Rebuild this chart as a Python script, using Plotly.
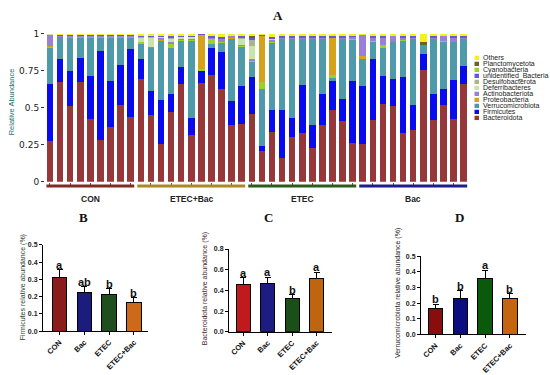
import plotly.graph_objects as go

# ---------------- data: panel A (relative abundance per sample) ----------------
groups = ["CON", "ETEC+Bac", "ETEC", "Bac"]
group_sizes = [9, 11, 11, 11]
samples = [f"{g}_{i + 1}" for g, n in zip(groups, group_sizes) for i in range(n)]

bacteroidota = [0.275, 0.67, 0.51, 0.675, 0.425, 0.28, 0.37, 0.515, 0.435,
                0.69, 0.45, 0.255, 0.47, 0.66, 0.315, 0.665, 0.72, 0.625, 0.38, 0.39,
                0.46, 0.21, 0.335, 0.16, 0.30, 0.33, 0.225, 0.385, 0.485, 0.41, 0.265,
                0.255, 0.415, 0.525, 0.51, 0.33, 0.35, 0.755, 0.415, 0.52, 0.425, 0.66]
firmicutes = [0.385, 0.155, 0.235, 0.16, 0.29, 0.605, 0.31, 0.275, 0.46,
              0.14, 0.16, 0.30, 0.125, 0.115, 0.115, 0.08, 0.185, 0.25, 0.165, 0.255,
              0.245, 0.03, 0.15, 0.325, 0.13, 0.32, 0.16, 0.21, 0.195, 0.15, 0.415,
              0.39, 0.415, 0.19, 0.185, 0.38, 0.17, 0.11, 0.18, 0.105, 0.26, 0.12]
verrucomicrobiota = [0.24, 0.15, 0.225, 0.135, 0.255, 0.085, 0.29, 0.18, 0.075,
                     0.10, 0.29, 0.395, 0.305, 0.175, 0.52, 0.0, 0.025, 0.06, 0.42, 0.265,
                     0.105, 0.385, 0.45, 0.475, 0.53, 0.31, 0.575, 0.365, 0.02, 0.40, 0.275,
                     0.185, 0.115, 0.185, 0.245, 0.24, 0.44, 0.055, 0.365, 0.32, 0.255, 0.18]
cyanobacteria = [0.01, 0, 0, 0, 0, 0, 0, 0, 0,
                 0.01, 0, 0, 0.03, 0.005, 0.005, 0.015, 0.03, 0.01, 0, 0.005,
                 0.005, 0.045, 0.005, 0.005, 0.005, 0.005, 0.005, 0.005, 0.02, 0.005, 0.005,
                 0, 0.005, 0.02, 0.005, 0.005, 0.005, 0, 0.005, 0.005, 0.005, 0.005]
proteobacteria = [0.005, 0.003, 0.004, 0.005, 0.005, 0.004, 0.005, 0.005, 0.005,
                  0, 0.005, 0.005, 0, 0, 0, 0.23, 0, 0, 0.005, 0,
                  0, 0.31, 0, 0, 0, 0, 0, 0, 0.25, 0, 0,
                  0.02, 0, 0, 0, 0, 0, 0, 0, 0, 0, 0]
actinobacteriota = [0.075, 0.005, 0.006, 0.005, 0.005, 0.008, 0.006, 0.005, 0.006,
                    0.005, 0.005, 0.015, 0.01, 0.01, 0.01, 0, 0.01, 0.015, 0.01, 0.005,
                    0.01, 0, 0.015, 0.005, 0.005, 0.005, 0.005, 0.005, 0, 0.005, 0.015,
                    0.14, 0.02, 0.05, 0.035, 0.015, 0.005, 0, 0.005, 0.03, 0.025, 0.005]
deferribacteres = [0.005, 0.002, 0.003, 0.002, 0.003, 0.002, 0.003, 0.003, 0.003,
                   0.025, 0.06, 0.005, 0.02, 0.01, 0.01, 0, 0, 0.005, 0, 0.045,
                   0.09, 0, 0.01, 0, 0, 0, 0, 0, 0, 0, 0,
                   0, 0, 0, 0, 0, 0, 0, 0, 0, 0, 0]
desulfobacterota = [0.005, 0, 0, 0, 0, 0, 0, 0, 0,
                    0.005, 0.005, 0, 0.01, 0, 0, 0, 0, 0, 0, 0.005,
                    0.04, 0, 0, 0, 0, 0, 0, 0, 0, 0, 0,
                    0, 0, 0, 0, 0, 0, 0, 0, 0, 0, 0]
unidentified_bacteria = [0, 0.005, 0.007, 0.008, 0.007, 0.006, 0.006, 0.007, 0.006,
                         0.005, 0.005, 0.01, 0.01, 0.01, 0.01, 0.005, 0.01, 0.01, 0.005, 0.01,
                         0.015, 0.01, 0.01, 0.01, 0.01, 0.01, 0.01, 0.01, 0.015, 0.01, 0.01,
                         0, 0.01, 0.01, 0, 0.01, 0.01, 0, 0.01, 0, 0.01, 0.01]
planctomycetota = [0, 0, 0, 0, 0, 0, 0, 0, 0,
                   0, 0, 0, 0, 0, 0, 0, 0, 0, 0, 0,
                   0.01, 0, 0, 0, 0, 0, 0, 0, 0, 0, 0,
                   0, 0, 0, 0, 0, 0, 0.025, 0, 0, 0, 0]
others = [0, 0.01, 0.01, 0.01, 0.01, 0.01, 0.01, 0.01, 0.01,
          0.02, 0.02, 0.015, 0.02, 0.015, 0.015, 0.005, 0.02, 0.025, 0.015, 0.02,
          0.02, 0.01, 0.025, 0.02, 0.02, 0.02, 0.02, 0.02, 0.015, 0.02, 0.015,
          0.01, 0.02, 0.02, 0.02, 0.02, 0.02, 0.055, 0.02, 0.02, 0.02, 0.02]

stack = [
    ("Bacteroidota", bacteroidota, "#96373A"),
    ("Firmicutes", firmicutes, "#0A0AEE"),
    ("Verrucomicrobiota", verrucomicrobiota, "#4F9AAA"),
    ("Cyanobacteria", cyanobacteria, "#9BD22A"),
    ("Proteobacteria", proteobacteria, "#D4A21C"),
    ("Actinobacteriota", actinobacteriota, "#9A7FD6"),
    ("Deferribacteres", deferribacteres, "#C9E4A8"),
    ("Desulfobacterota", desulfobacterota, "#A8B494"),
    ("unidentified_Bacteria", unidentified_bacteria, "#6659D8"),
    ("Planctomycetota", planctomycetota, "#6B6320"),
    ("Others", others, "#F2F21A"),
]
legend_order = ["Others", "Planctomycetota", "Cyanobacteria", "unidentified_Bacteria",
                "Desulfobacterota", "Deferribacteres", "Actinobacteriota", "Proteobacteria",
                "Verrucomicrobiota", "Firmicutes", "Bacteroidota"]
group_line_colors = ["#7B2D26", "#A88A2A", "#2D5A1E", "#1E1E8A"]

# ---------------- data: panels B, C, D ----------------
treatments = ["CON", "Bac", "ETEC", "ETEC+Bac"]
firm_mean = [0.31, 0.222, 0.21, 0.167]
firm_err = [0.047, 0.035, 0.035, 0.025]
firm_sig = ["a", "ab", "b", "b"]
bact_mean = [0.46, 0.47, 0.325, 0.515]
bact_err = [0.06, 0.057, 0.035, 0.06]
bact_sig = ["a", "a", "b", "a"]
verr_mean = [0.163, 0.227, 0.356, 0.227]
verr_err = [0.031, 0.053, 0.054, 0.033]
verr_sig = ["b", "b", "a", "b"]

W, H = 550, 375
def px(x):
    return x / W
def py(y):
    return 1 - y / H

SANS = "Liberation Sans"
SERIF = "Liberation Serif"

fig = go.Figure()

# panel A stacked bars
for name, vals, col in stack:
    fig.add_trace(go.Bar(x=samples, y=vals, name=name, marker=dict(color=col, line=dict(width=0)),
                         showlegend=False, hoverinfo="skip", xaxis="x", yaxis="y"))

shapes = []
annotations = []

def centered(**kw):
    d = dict(showarrow=False, xanchor="center", yanchor="middle")
    d.update(kw)
    return d

# group lines and labels
start = 0
for g, n, c in zip(groups, group_sizes, group_line_colors):
    shapes.append(dict(type="line", xref="x", yref="paper", x0=start - 0.35, x1=start + n - 1 + 0.35,
                       y0=py(186), y1=py(186), line=dict(color=c, width=3)))
    annotations.append(centered(xref="x", yref="paper", x=samples[start + n // 2], y=py(199), text=f"<b>{g}</b>",
                                font=dict(family=SANS, size=8.5, color="#222")))
    start += n

# manual legend
colmap = {n: c for n, _, c in stack}
for i, name in enumerate(legend_order):
    yc = 54.3 + i * 6.17
    shapes.append(dict(type="rect", xref="paper", yref="paper", x0=px(474.5), x1=px(479),
                       y0=py(yc + 2.2), y1=py(yc - 2.2), fillcolor=colmap[name], line=dict(width=0)))
    annotations.append(centered(xref="paper", yref="paper", x=px(481), y=py(yc), text=name, xanchor="left",
                                font=dict(family=SANS, size=7, color="#222")))

# panel A titles
annotations.append(centered(xref="paper", yref="paper", x=px(278), y=py(11), text="<b>A</b>",
                            font=dict(family=SERIF, size=13, color="#111")))
annotations.append(centered(xref="paper", yref="paper", x=px(11), y=py(100), text="Relative Abundance",
                            textangle=-90, font=dict(family=SANS, size=7.5, color="#1F6F6A")))

# panels B, C, D
panels = [
    dict(ax="2", mean=firm_mean, err=firm_err, sig=firm_sig,
         colors=["#8B1C1C", "#1C1C7C", "#1F4F1F", "#CC6A1A"],
         title="Firmicutes relative abundance (%)", tcol="#2B3D2B", tx=23, ty=290, letter="B", lx=83),
    dict(ax="3", mean=bact_mean, err=bact_err, sig=bact_sig,
         colors=["#C0191E", "#1C1C82", "#1A4F1A", "#BF650F"],
         title="Bacteroidota relative abundance (%)", tcol="#4A1A2A", tx=205, ty=292, letter="C", lx=268),
    dict(ax="4", mean=verr_mean, err=verr_err, sig=verr_sig,
         colors=["#8A0D0D", "#0D0D82", "#0B5A0B", "#C4650F"],
         title="Verrucomicrobiota relative abundance (%)", tcol="#222222", tx=398, ty=296, letter="D", lx=459),
]
for p in panels:
    fig.add_trace(go.Bar(x=treatments, y=p["mean"], width=0.58, showlegend=False, hoverinfo="skip",
                         marker=dict(color=p["colors"], line=dict(color="black", width=1)),
                         error_y=dict(type="data", array=p["err"], arrayminus=[0] * len(p["err"]),
                                      symmetric=False, color="black", thickness=1, width=3),
                         xaxis="x" + p["ax"], yaxis="y" + p["ax"]))
    for t, m, e, s in zip(treatments, p["mean"], p["err"], p["sig"]):
        annotations.append(dict(xref="x" + p["ax"], yref="y" + p["ax"], x=t, y=m + e, text=f"<b>{s}</b>",
                                xanchor="center", yanchor="bottom", yshift=-3, showarrow=False,
                                font=dict(family=SANS, size=11, color="#111")))
    annotations.append(centered(xref="paper", yref="paper", x=px(p["tx"]), y=py(p["ty"]), text=p["title"],
                                textangle=-90, font=dict(family=SANS, size=7, color=p["tcol"])))
    annotations.append(centered(xref="paper", yref="paper", x=px(p["lx"]), y=py(218), text=f"<b>{p['letter']}</b>",
                                font=dict(family=SERIF, size=13, color="#111")))

small_x = dict(type="category", categoryarray=treatments, showline=True, linecolor="black", linewidth=1,
               ticks="outside", ticklen=3, tickcolor="black", tickangle=-45, showgrid=False, zeroline=False,
               tickfont=dict(family=SANS, size=7.5, color="#111", weight="bold"))
small_y = dict(showline=True, linecolor="black", linewidth=1, ticks="outside", ticklen=3, tickcolor="black",
               showgrid=False, zeroline=False, tickformat=".1f",
               tickfont=dict(family=SANS, size=7, color="#222", weight="bold"))

fig.update_layout(
    width=W, height=H, margin=dict(l=0, r=0, t=0, b=0),
    paper_bgcolor="white", plot_bgcolor="white",
    barmode="stack", bargap=0.35, showlegend=False,
    xaxis=dict(domain=[px(44.95), px(468.7)], type="category", range=[-0.5, 41.5], showticklabels=False,
               ticks="outside", ticklen=2, tickcolor="#555", showline=False, showgrid=False, zeroline=False),
    yaxis=dict(domain=[py(181.7), py(29.3)], range=[0, 1], tickvals=[0, 0.25, 0.5, 0.75, 1],
               ticktext=["0", "0.25", "0.5", "0.75", "1"], ticks="outside", ticklen=3, tickcolor="#333",
               showline=False, showgrid=False, zeroline=False,
               tickfont=dict(family="DejaVu Sans", size=9, color="#222")),
    xaxis2=dict(domain=[px(43), px(148)], range=[-0.665, 3.565], anchor="y2", **small_x),
    yaxis2=dict(domain=[py(335), py(246.5)], range=[0, 0.5], dtick=0.1, anchor="x2", **small_y),
    xaxis3=dict(domain=[px(229), px(331.7)], range=[-0.586, 3.623], anchor="y3", **small_x),
    yaxis3=dict(domain=[py(335.7), py(250.7)], range=[0, 0.8], dtick=0.2, anchor="x3", **small_y),
    xaxis4=dict(domain=[px(421), px(525.7)], range=[-0.584, 3.633], anchor="y4", **small_x),
    yaxis4=dict(domain=[py(338.3), py(258.3)], range=[0, 0.5], dtick=0.1, anchor="x4", **small_y),
    shapes=shapes, annotations=annotations,
)

fig.write_html("out.html", config={"displayModeBar": False, "staticPlot": True},
               post_script="document.body.style.margin='0px';")
